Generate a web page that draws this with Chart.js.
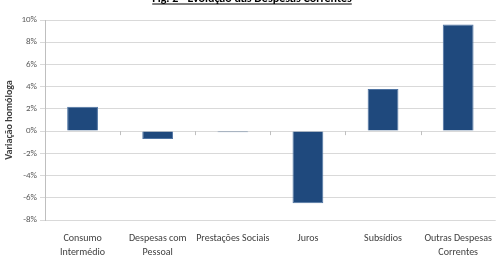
<!DOCTYPE html>
<html>
<head>
<meta charset="utf-8">
<script src="https://cdn.jsdelivr.net/npm/chart.js@4/dist/chart.umd.min.js"></script>
<style>
  html, body { margin: 0; padding: 0; background: #fff; overflow: hidden; }
  #wrap { width: 503px; height: 259px; }
</style>
</head>
<body>
<div id="wrap"><canvas id="graph_chart"></canvas></div>
<script>
const categories = [['Consumo', 'Intermédio'], ['Despesas com', 'Pessoal'], 'Prestações Sociais', 'Juros', 'Subsídios', ['Outras Despesas', 'Correntes']];
const variacao = [2.2, -0.7, -0.1, -6.5, 3.8, 9.6];
const yTicks = [-8, -6, -4, -2, 0, 2, 4, 6, 8, 10];

const titulo = 'Fig. 2 - Evolução das Despesas Correntes';
const fontFamily = 'Carlito, "Liberation Sans Narrow", "Open Sans", sans-serif';

// title is cut at the top of the picture, drawn by hand
const titlePlugin = {
  id: 'titulo',
  afterDraw(chart) {
    const ctx = chart.ctx;
    ctx.save();
    ctx.font = 'bold 12px ' + fontFamily;
    ctx.fillStyle = '#000';
    ctx.textAlign = 'center';
    ctx.textBaseline = 'alphabetic';
    const cx = 252;
    ctx.fillText(titulo, cx, 2);
    const w = ctx.measureText(titulo).width;
    ctx.fillRect(cx - w / 2, 3.5, w, 1);
    ctx.restore();
  }
};

// small tick marks between categories on the zero line
const zeroTicks = {
  id: 'zeroTicks',
  afterDatasetsDraw(chart) {
    const ctx = chart.ctx;
    const x = chart.scales.x;
    const y0 = chart.scales.y.getPixelForValue(0);
    ctx.save();
    ctx.strokeStyle = '#bfbfbf';
    ctx.lineWidth = 1;
    for (let i = 1; i < categories.length; i++) {
      const px = Math.round((x.getPixelForValue(i - 1) + x.getPixelForValue(i)) / 2) + 0.5;
      ctx.beginPath();
      ctx.moveTo(px, y0);
      ctx.lineTo(px, y0 + 4);
      ctx.stroke();
    }
    ctx.restore();
  }
};

new Chart(document.getElementById('graph_chart'), {
  type: 'bar',
  data: {
    labels: categories,
    datasets: [{
      data: variacao,
      backgroundColor: '#1f497d',
      borderColor: '#4f74a3',
      borderWidth: 1,
      barPercentage: 0.41,
      categoryPercentage: 1
    }]
  },
  plugins: [titlePlugin, zeroTicks],
  options: {
    responsive: true,
    maintainAspectRatio: false,
    animation: false,
    layout: { padding: { top: 20, right: 2, left: 3, bottom: 0 } },
    plugins: {
      legend: { display: false },
      tooltip: { enabled: false }
    },
    scales: {
      x: {
        grid: { display: false, drawTicks: false },
        border: { display: false },
        afterFit(scale) {
          scale.height = 39;
        },
        ticks: {
          color: '#404040',
          padding: 11,
          maxRotation: 0,
          autoSkip: false,
          font: { family: fontFamily, size: 10, lineHeight: 1.4 }
        }
      },
      y: {
        min: -8,
        max: 10,
        afterBuildTicks(scale) {
          scale.ticks = yTicks.map(v => ({ value: v }));
        },
        afterFit(scale) {
          scale.width = 42;
        },
        grid: { color: '#d9d9d9', tickLength: 5 },
        border: { color: '#bfbfbf' },
        ticks: {
          color: '#595959',
          padding: 3,
          font: { family: fontFamily, size: 9 },
          callback: v => v + '%'
        },
        title: {
          display: true,
          text: 'Variação homóloga',
          color: '#404040',
          padding: 0,
          font: { family: fontFamily, size: 10, weight: 'bold' }
        }
      }
    }
  }
});
</script>
</body>
</html>
